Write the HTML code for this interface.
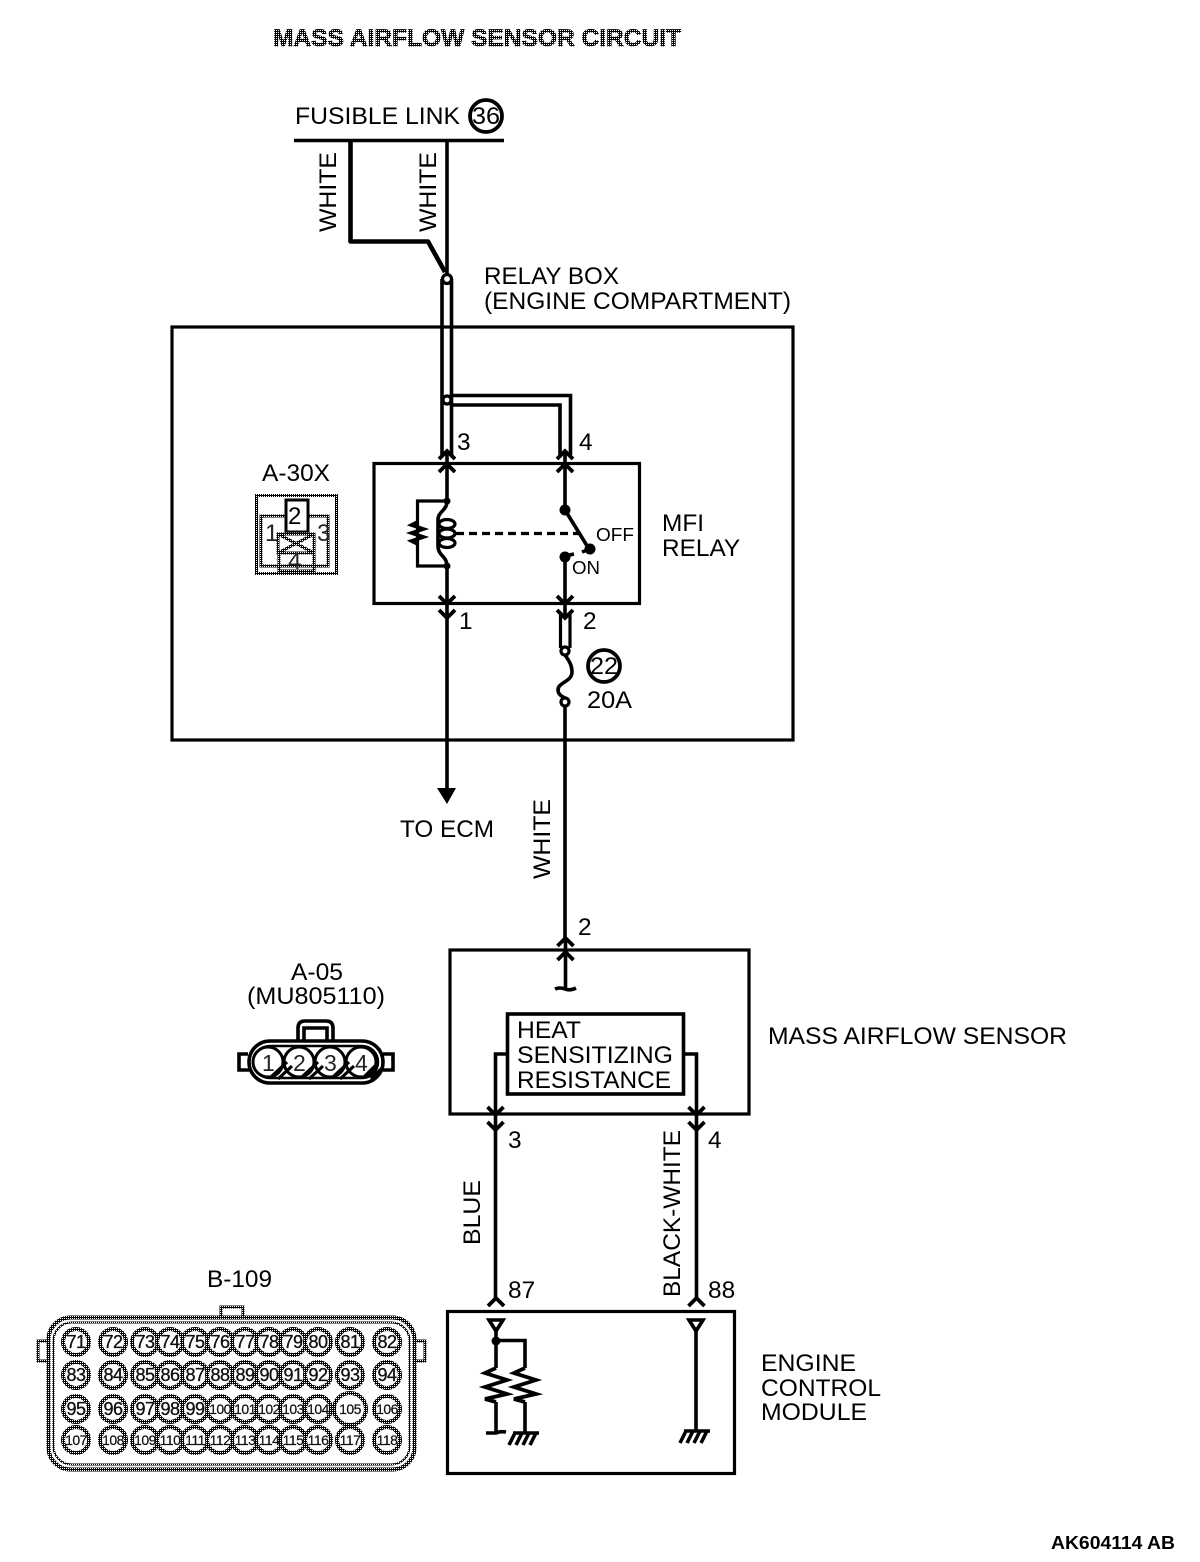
<!DOCTYPE html>
<html><head><meta charset="utf-8"><style>
html,body{margin:0;padding:0;background:#fff}
svg{display:block}
text{font-family:"Liberation Sans",sans-serif;fill:#000;font-size:24.400px}
.w{fill:none;stroke:#000;stroke-width:3.600}
.b{fill:none;stroke:#000;stroke-width:3.200}
.t{fill:none;stroke:#000;stroke-width:4.600;stroke-linejoin:round}
.d{fill:none;stroke:url(#dth);stroke-width:3}
.dt{fill:#111;font-size:18px;letter-spacing:-.5px;stroke:#000;stroke-width:.3}
.s{fill:#111;font-size:14px;letter-spacing:-.5px;stroke:#000;stroke-width:.2}
.g{fill:#222}
</style></head><body>
<svg width="1200" height="1562" viewBox="0 0 1200 1562" xmlns="http://www.w3.org/2000/svg">
<defs>
<pattern id="dth" width="2" height="2" patternUnits="userSpaceOnUse"><rect width="2" height="2" fill="#000"/><rect width="1" height="1" fill="#fff"/></pattern>
<path id="up" d="M-8 8 L0 0 L8 8" fill="none" stroke="#000" stroke-width="3.800"/>
<path id="dn" d="M-8 -8 L0 0 L8 -8" fill="none" stroke="#000" stroke-width="3.800"/>
<path id="res" d="M0 0 L-11 5 L11 12 L-11 19 L11 26 L-11 31 L0 34" fill="none" stroke="#000" stroke-width="3.800"/>
<path id="res2" d="M0 0 L-6 3 L6 7 L-6 11 L6 15 L-6 19 L0 22" fill="none" stroke="#000" stroke-width="3.600"/>
<path id="gnd" d="M-12 0 H14 M-10 0 L-16 12 M-3 0 L-9 12 M4 0 L-2 12 M11 0 L5 12" fill="none" stroke="#000" stroke-width="3.600"/>
</defs>
<text x="273" y="46" textLength="408" lengthAdjust="spacingAndGlyphs" style="font-weight:bold;fill:url(#dth);stroke:url(#dth);stroke-width:.8">MASS AIRFLOW SENSOR CIRCUIT</text>

<!-- top -->
<text x="295" y="124" textLength="165" lengthAdjust="spacingAndGlyphs">FUSIBLE LINK</text>
<circle cx="486" cy="116" r="16" fill="none" stroke="#000" stroke-width="3.800"/>
<text x="472" y="124" textLength="28" lengthAdjust="spacingAndGlyphs">36</text>
<path class="w" d="M294 140.500H504"/>
<path class="t" d="M350.500 140V241.500H428L445 272"/>
<path class="w" d="M447 140V274"/>
<text transform="translate(336 232) rotate(-90)" textLength="80" lengthAdjust="spacingAndGlyphs">WHITE</text>
<text transform="translate(436 232) rotate(-90)" textLength="80" lengthAdjust="spacingAndGlyphs">WHITE</text>
<text x="484" y="284" textLength="135" lengthAdjust="spacingAndGlyphs">RELAY BOX</text>
<text x="484" y="309" textLength="307" lengthAdjust="spacingAndGlyphs">(ENGINE COMPARTMENT)</text>

<!-- relay box -->
<rect x="172" y="327" width="621" height="413" class="b"/>
<path class="w" d="M442 279V455M451.500 279V455"/>
<circle cx="447" cy="279" r="4.500" fill="#fff" stroke="#000" stroke-width="3.200"/>
<path class="w" d="M451 395.500H570.500V455M451 405H560V455"/>
<circle cx="447" cy="400" r="4" fill="#fff" stroke="#000" stroke-width="3.200"/>
<text x="457" y="450">3</text><text x="579" y="450">4</text>
<rect x="374" y="463.500" width="265.500" height="140" class="b"/>
<use href="#up" x="447" y="451"/><use href="#up" x="447" y="464"/>
<use href="#up" x="565" y="451"/><use href="#up" x="565" y="464"/>
<use href="#dn" x="447" y="604"/><use href="#dn" x="447" y="618"/>
<use href="#dn" x="565" y="604"/><use href="#dn" x="565" y="618"/>
<path class="w" d="M447 451V501M447 566V790M565 451V505M565 557V618"/>
<path class="b" d="M447 501H417.500V566H447"/>
<use href="#res2" x="417.500" y="522"/>
<path class="w" d="M447 501C447 511 438 511 438 520V546C438 556 447 556 447 566"/>
<ellipse cx="447" cy="524" rx="8" ry="4.500" class="b"/><ellipse cx="447" cy="533.500" rx="8" ry="4.500" class="b"/><ellipse cx="447" cy="543" rx="8" ry="4.500" class="b"/>
<circle cx="447" cy="501" r="3.500"/><circle cx="447" cy="566" r="3.500"/>
<path d="M456 533.500H583" fill="none" stroke="#000" stroke-width="3.200" stroke-dasharray="8 5"/>
<circle cx="565" cy="510" r="5.500"/><circle cx="590" cy="549" r="5.500"/><circle cx="565" cy="557" r="5.500"/>
<path class="w" d="M565 510L589 549M565 556L574 554M582 552L590 549"/>
<text x="596" y="541" textLength="38" lengthAdjust="spacingAndGlyphs" style="font-size:18.500px">OFF</text>
<text x="572" y="574" textLength="28" lengthAdjust="spacingAndGlyphs" style="font-size:18.500px">ON</text>
<text x="662" y="531">MFI</text><text x="662" y="556">RELAY</text>
<text x="459" y="629">1</text><text x="583" y="629">2</text>
<path class="b" d="M560.500 612V648M570 612V648"/>
<path class="w" d="M565 655C570 662 572 666 572 672C572 682 558 682 558 690C558 694 561 696 565 698M565 706V938"/>
<circle cx="565" cy="651" r="4" fill="#fff" stroke="#000" stroke-width="3.200"/>
<circle cx="565" cy="702" r="4" fill="#fff" stroke="#000" stroke-width="3.200"/>
<circle cx="604" cy="666" r="16" fill="none" stroke="#000" stroke-width="3.800"/>
<text x="590" y="674" textLength="28" lengthAdjust="spacingAndGlyphs">22</text>
<text x="587" y="708" textLength="45" lengthAdjust="spacingAndGlyphs">20A</text>
<path d="M437 788H456L447 804Z"/>
<text x="400" y="837" textLength="94" lengthAdjust="spacingAndGlyphs">TO ECM</text>
<text transform="translate(550 879) rotate(-90)" textLength="80" lengthAdjust="spacingAndGlyphs">WHITE</text>
<text x="578" y="935">2</text>

<!-- A-30X -->
<text x="262" y="481" textLength="68" lengthAdjust="spacingAndGlyphs">A-30X</text>
<rect x="256.500" y="495.500" width="80" height="78" class="d"/>
<rect x="261" y="516" width="67" height="50" class="d"/>
<rect x="286" y="500" width="22" height="32" fill="#fff" stroke="#000" stroke-width="3"/>
<rect x="278" y="534" width="36" height="19" fill="#fff" class="d"/>
<path d="M278 534L314 553M314 534L278 553" class="d"/>
<rect x="279" y="553" width="35" height="18" fill="#fff" class="d"/>
<text x="288" y="524" style="font-size:24px">2</text>
<text x="265" y="541" class="g" style="font-size:24px">1</text>
<text x="317" y="541" class="g" style="font-size:24px">3</text>
<text x="288" y="569" class="g" style="font-size:24px">4</text>

<!-- A-05 -->
<text x="291" y="980" textLength="52" lengthAdjust="spacingAndGlyphs">A-05</text>
<text x="247" y="1004" textLength="138" lengthAdjust="spacingAndGlyphs">(MU805110)</text>
<path class="w" d="M298 1040V1028Q298 1021 305 1021H326Q333 1021 333 1028V1040M304 1040V1028H327V1040"/>
<rect x="249" y="1041" width="134" height="42" rx="21" class="w"/>
<rect x="254" y="1046" width="124" height="32" rx="16" class="b" style="stroke-width:2.500"/>
<path class="w" d="M248 1054H239V1070H249M383 1054H393V1070H383"/>
<g fill="#fff" stroke="#000" stroke-width="3"><circle cx="268" cy="1062" r="15"/><circle cx="299" cy="1062" r="15"/><circle cx="330" cy="1062" r="15"/><circle cx="361" cy="1062" r="15"/></g>
<path class="b" d="M272 1076L287 1062M278 1079L292 1066M303 1076L318 1062M309 1079L323 1066M334 1076L349 1062M340 1079L354 1066M365 1076L378 1063M371 1079L381 1069"/>
<text x="262" y="1071" class="g" style="font-size:23px">1</text><text x="293" y="1071" class="g" style="font-size:23px">2</text><text x="324" y="1071" class="g" style="font-size:23px">3</text><text x="355" y="1071" class="g" style="font-size:23px">4</text>

<!-- sensor -->
<rect x="450" y="950" width="299" height="164" class="b"/>
<use href="#up" x="565.500" y="938"/><use href="#up" x="565.500" y="952"/>
<path class="w" d="M565.500 938V988M555 989Q560 987 565 989Q570 991 576 988"/>
<rect x="507.500" y="1014" width="176" height="80" class="w"/>
<text x="517" y="1038" textLength="64" lengthAdjust="spacingAndGlyphs">HEAT</text>
<text x="517" y="1063" textLength="156" lengthAdjust="spacingAndGlyphs">SENSITIZING</text>
<text x="517" y="1088" textLength="154" lengthAdjust="spacingAndGlyphs">RESISTANCE</text>
<path class="w" d="M507 1054H495.500V1300M684 1054H696.500V1300"/>
<use href="#dn" x="495.500" y="1115"/><use href="#dn" x="495.500" y="1130"/>
<use href="#dn" x="696.500" y="1115"/><use href="#dn" x="696.500" y="1130"/>
<text x="768" y="1044" textLength="299" lengthAdjust="spacingAndGlyphs">MASS AIRFLOW SENSOR</text>
<text x="508" y="1148">3</text><text x="708" y="1148">4</text>
<text transform="translate(480 1245) rotate(-90)" textLength="65" lengthAdjust="spacingAndGlyphs">BLUE</text>
<text transform="translate(680 1297) rotate(-90)" textLength="167" lengthAdjust="spacingAndGlyphs">BLACK-WHITE</text>
<text x="508" y="1298">87</text><text x="708" y="1298">88</text>

<!-- ECM -->
<use href="#up" x="496" y="1298"/><use href="#up" x="696.500" y="1298"/>
<rect x="447.500" y="1311.500" width="287" height="162" class="b"/>
<path d="M489 1320H503L496 1331Z" fill="#fff" stroke="#000" stroke-width="3.600"/>
<path d="M689 1320H703L696 1331Z" fill="#fff" stroke="#000" stroke-width="3.600"/>
<path class="w" d="M496 1331V1368M496 1402V1433M486 1433H496Q500 1431 506 1432M496 1340.500H525V1368M525 1402V1432M696 1331V1430"/>
<circle cx="496" cy="1341" r="4.500"/>
<use href="#res" x="496" y="1368"/><use href="#res" x="525" y="1368"/>
<use href="#gnd" x="525" y="1433"/><use href="#gnd" x="696" y="1431"/>
<text x="761" y="1371" textLength="95" lengthAdjust="spacingAndGlyphs">ENGINE</text><text x="761" y="1396" textLength="120" lengthAdjust="spacingAndGlyphs">CONTROL</text><text x="761" y="1420" textLength="106" lengthAdjust="spacingAndGlyphs">MODULE</text>

<!-- B-109 -->
<text x="207" y="1287" textLength="65" lengthAdjust="spacingAndGlyphs">B-109</text>
<rect x="48.500" y="1317.500" width="366" height="152" rx="22" class="d" style="stroke-width:4"/>
<rect x="53.500" y="1322.500" width="356" height="142" rx="18" class="d" style="stroke-width:2"/>
<rect x="221" y="1307" width="22" height="10" fill="#fff" class="d"/>
<path class="d" d="M47 1341H38V1361H47M416 1341H425V1361H416"/>
<g fill="#fff" stroke="url(#dth)" stroke-width="4">
<circle cx="76" cy="1342" r="13"/><circle cx="113" cy="1342" r="13"/><circle cx="145" cy="1342" r="13"/><circle cx="170" cy="1342" r="13"/><circle cx="195" cy="1342" r="13"/><circle cx="220" cy="1342" r="13"/><circle cx="245" cy="1342" r="13"/><circle cx="269" cy="1342" r="13"/><circle cx="293" cy="1342" r="13"/><circle cx="318" cy="1342" r="13"/><circle cx="350" cy="1342" r="13"/><circle cx="387" cy="1342" r="13"/>
<circle cx="76" cy="1375" r="13"/><circle cx="113" cy="1375" r="13"/><circle cx="145" cy="1375" r="13"/><circle cx="170" cy="1375" r="13"/><circle cx="195" cy="1375" r="13"/><circle cx="220" cy="1375" r="13"/><circle cx="245" cy="1375" r="13"/><circle cx="269" cy="1375" r="13"/><circle cx="293" cy="1375" r="13"/><circle cx="318" cy="1375" r="13"/><circle cx="350" cy="1375" r="13"/><circle cx="387" cy="1375" r="13"/>
<circle cx="76" cy="1409" r="13"/><circle cx="113" cy="1409" r="13"/><circle cx="145" cy="1409" r="13"/><circle cx="170" cy="1409" r="13"/><circle cx="195" cy="1409" r="13"/><circle cx="220" cy="1409" r="13"/><circle cx="245" cy="1409" r="13"/><circle cx="269" cy="1409" r="13"/><circle cx="293" cy="1409" r="13"/><circle cx="318" cy="1409" r="13"/><circle cx="350" cy="1409" r="16"/><circle cx="387" cy="1409" r="13"/>
<circle cx="76" cy="1440" r="13"/><circle cx="113" cy="1440" r="13"/><circle cx="145" cy="1440" r="13"/><circle cx="170" cy="1440" r="13"/><circle cx="195" cy="1440" r="13"/><circle cx="220" cy="1440" r="13"/><circle cx="245" cy="1440" r="13"/><circle cx="269" cy="1440" r="13"/><circle cx="293" cy="1440" r="13"/><circle cx="318" cy="1440" r="13"/><circle cx="350" cy="1440" r="13"/><circle cx="387" cy="1440" r="13"/>
</g>
<g text-anchor="middle">
<text class="dt" x="76" y="1348">71</text><text class="dt" x="113" y="1348">72</text><text class="dt" x="145" y="1348">73</text><text class="dt" x="170" y="1348">74</text><text class="dt" x="195" y="1348">75</text><text class="dt" x="220" y="1348">76</text><text class="dt" x="245" y="1348">77</text><text class="dt" x="269" y="1348">78</text><text class="dt" x="293" y="1348">79</text><text class="dt" x="318" y="1348">80</text><text class="dt" x="350" y="1348">81</text><text class="dt" x="387" y="1348">82</text>
<text class="dt" x="76" y="1381">83</text><text class="dt" x="113" y="1381">84</text><text class="dt" x="145" y="1381">85</text><text class="dt" x="170" y="1381">86</text><text class="dt" x="195" y="1381">87</text><text class="dt" x="220" y="1381">88</text><text class="dt" x="245" y="1381">89</text><text class="dt" x="269" y="1381">90</text><text class="dt" x="293" y="1381">91</text><text class="dt" x="318" y="1381">92</text><text class="dt" x="350" y="1381">93</text><text class="dt" x="387" y="1381">94</text>
<text class="dt" x="76" y="1415">95</text><text class="dt" x="113" y="1415">96</text><text class="dt" x="145" y="1415">97</text><text class="dt" x="170" y="1415">98</text><text class="dt" x="195" y="1415">99</text><text class="s" x="220" y="1414">100</text><text class="s" x="245" y="1414">101</text><text class="s" x="269" y="1414">102</text><text class="s" x="293" y="1414">103</text><text class="s" x="318" y="1414">104</text><text class="s" x="350" y="1414">105</text><text class="s" x="387" y="1414">106</text>
<text class="s" x="76" y="1445">107</text><text class="s" x="113" y="1445">108</text><text class="s" x="145" y="1445">109</text><text class="s" x="170" y="1445">110</text><text class="s" x="195" y="1445">111</text><text class="s" x="220" y="1445">112</text><text class="s" x="245" y="1445">113</text><text class="s" x="269" y="1445">114</text><text class="s" x="293" y="1445">115</text><text class="s" x="318" y="1445">116</text><text class="s" x="350" y="1445">117</text><text class="s" x="387" y="1445">118</text>
</g>
<text x="1051" y="1549" textLength="124" lengthAdjust="spacingAndGlyphs" style="font-size:18px;font-weight:bold">AK604114 AB</text>
</svg>
</body></html>
